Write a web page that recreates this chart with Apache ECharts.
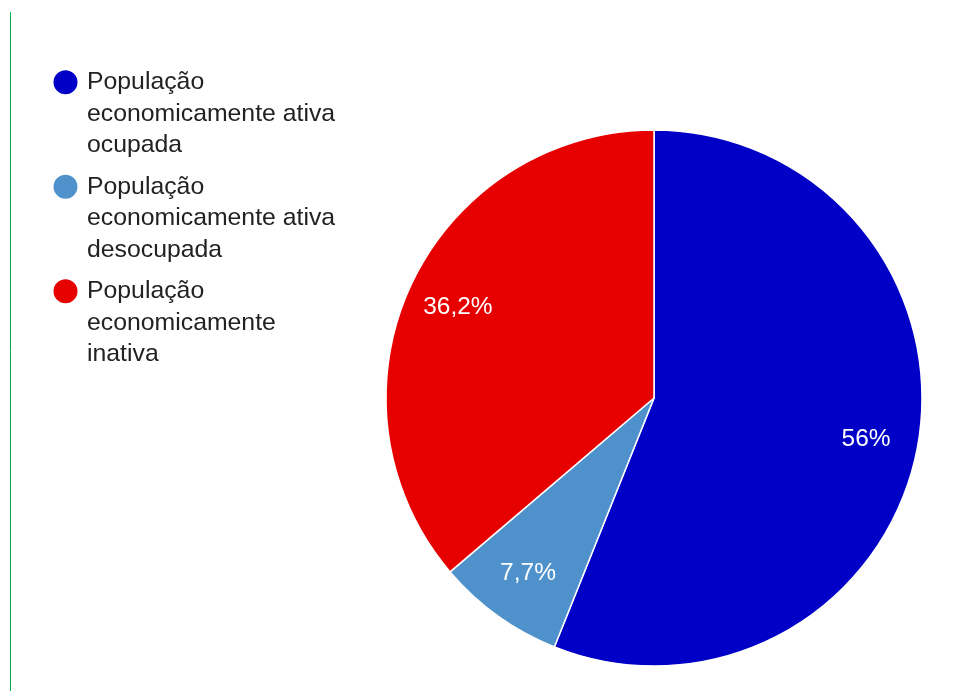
<!DOCTYPE html>
<html>
<head>
<meta charset="utf-8">
<title>População economicamente ativa e inativa</title>
<script src="https://cdn.jsdelivr.net/npm/echarts@6/dist/echarts.min.js"></script>
<style>
  html, body { margin: 0; padding: 0; background: #ffffff; }
  #chart { width: 973px; height: 691px; }
</style>
</head>
<body>
<div id="chart"></div>
<script>
// Categories (legend entries, three lines each) and their shares in percent
const categories = [
  'População\neconomicamente ativa\nocupada',
  'População\neconomicamente ativa\ndesocupada',
  'População\neconomicamente\ninativa'
];
const shares = [56, 7.7, 36.2];
const sliceColors = ['#0000C6', '#4E91CB', '#E60000'];

const FONT = '"Liberation Sans", Arial, sans-serif';

const pieData = categories.map((name, i) => ({
  name: name,
  value: shares[i],
  itemStyle: { color: sliceColors[i] }
}));

// Percent text with a decimal comma
const pctText = v => String(v).replace('.', ',') + '%';

const chart = echarts.init(document.getElementById('chart'), null, { renderer: 'canvas' });

chart.setOption({
  animation: false,
  backgroundColor: '#ffffff',
  color: sliceColors,
  graphic: [{
    type: 'line',
    shape: { x1: 10.5, y1: 12, x2: 10.5, y2: 691 },
    style: { stroke: '#00B050', lineWidth: 1 },
    silent: true
  }],
  legend: {
    orient: 'vertical',
    left: 46.5,
    top: -1.5,
    icon: 'circle',
    itemWidth: 33,
    itemHeight: 26,
    itemGap: -53,
    selectedMode: false,
    data: categories,
    // two empty lines on top keep the marker level with the first text line
    formatter: name => '\n\n' + name,
    textStyle: {
      fontFamily: FONT,
      fontSize: 24.8,
      lineHeight: 31.5,
      color: '#222222'
    }
  },
  series: [
    {
      // the slices themselves
      type: 'pie',
      center: [654, 398],
      radius: [0, 268],
      startAngle: 90,
      clockwise: true,
      label: { show: false },
      labelLine: { show: false },
      emphasis: { disabled: true },
      itemStyle: { borderColor: '#ffffff', borderWidth: 1.5 },
      data: pieData
    },
    {
      // transparent ring carrying the percent labels further out on each slice
      type: 'pie',
      center: [654, 398],
      radius: [158, 268],
      startAngle: 90,
      clockwise: true,
      silent: true,
      itemStyle: { color: 'rgba(0,0,0,0)', borderWidth: 0 },
      emphasis: { disabled: true },
      labelLine: { show: false },
      label: {
        show: true,
        position: 'inside',
        color: '#ffffff',
        fontFamily: FONT,
        fontSize: 24.5,
        formatter: p => pctText(p.value)
      },
      data: pieData.map(d => ({ name: d.name, value: d.value }))
    }
  ]
});
</script>
</body>
</html>
